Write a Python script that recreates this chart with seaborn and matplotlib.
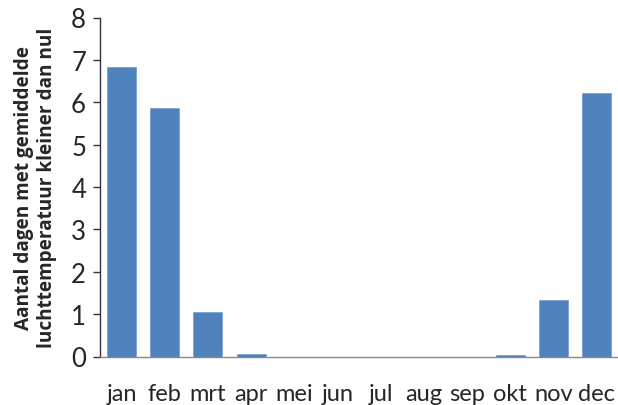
import matplotlib
matplotlib.use("Agg")
import matplotlib.pyplot as plt
import seaborn as sns
import numpy as np
import pandas as pd

# data
maanden = ["jan", "feb", "mrt", "apr", "mei", "jun",
           "jul", "aug", "sep", "okt", "nov", "dec"]
dagen = [6.84, 5.87, 1.06, 0.05, 0.0, 0.0,
         0.0, 0.0, 0.0, 0.03, 1.33, 6.23]
y_ticks = [0, 1, 2, 3, 4, 5, 6, 7, 8]
y_label = "Aantal dagen met gemiddelde\nluchttemperatuur kleiner dan nul"

df = pd.DataFrame({"maand": maanden, "dagen": dagen})

sns.set_style("white")
plt.rcParams["font.family"] = ["Lato", "DejaVu Sans"]

fig = plt.figure(figsize=(6.18, 4.06), dpi=100)
ax = fig.add_axes([100 / 618, 48.5 / 406, 518 / 618, 339 / 406])

sns.barplot(data=df, x="maand", y="dagen", color="#4f81bd", saturation=1,
            width=0.67, edgecolor="#7da0cf", linewidth=0.6, ax=ax)

ax.set_ylim(0, 8)
ax.set_xlim(-0.5, len(maanden) - 0.5)
ax.set_yticks(y_ticks)
ax.set_yticklabels([str(t) for t in y_ticks], fontsize=18.5)
ax.set_xticks(range(len(maanden)))
ax.set_xticklabels(maanden, fontsize=17)
ax.set_xticks(np.arange(-0.5, len(maanden), 1), minor=True)
ax.tick_params(axis="x", which="major", length=0, pad=19)
ax.tick_params(axis="x", which="minor", length=7, width=1, color="#888888",
               direction="out")
ax.tick_params(axis="y", which="major", length=5, width=1, color="#333333",
               direction="out", left=True, pad=5)

ax.set_xlabel("")
ax.set_ylabel(y_label, fontsize=13.7, fontweight="bold", linespacing=1.2,
              labelpad=10, family=["Open Sans", "DejaVu Sans"])

for side in ["top", "right"]:
    ax.spines[side].set_visible(False)
ax.spines["left"].set_color("#333333")
ax.spines["left"].set_linewidth(1)
ax.spines["bottom"].set_color("#888888")
ax.spines["bottom"].set_linewidth(1)
ax.grid(False)

fig.savefig("out.png", dpi=100)
